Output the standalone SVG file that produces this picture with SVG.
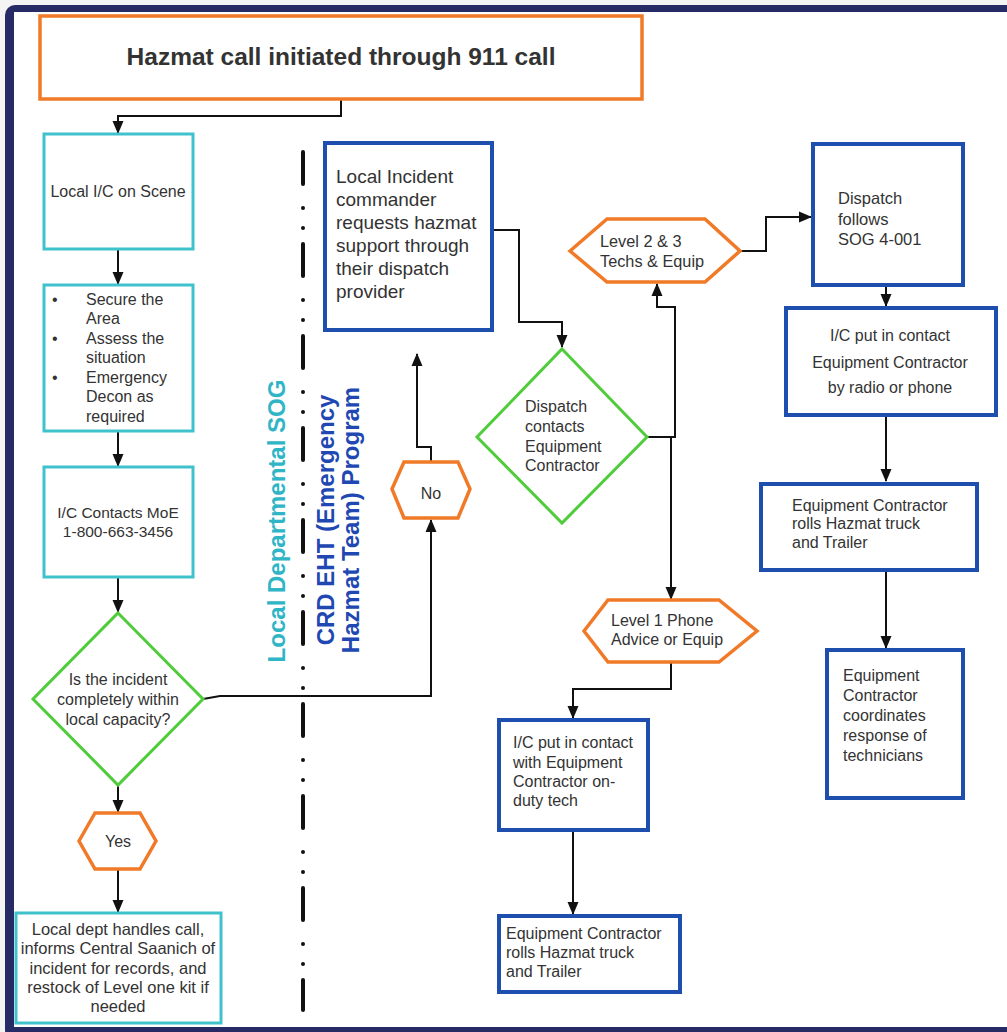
<svg xmlns="http://www.w3.org/2000/svg" width="1007" height="1032" viewBox="0 0 1007 1032">
<style>
text{font-family:"Liberation Sans",Arial,sans-serif;fill:#333;font-size:16px}
.c{text-anchor:middle}
.cyan{fill:#fff;stroke:#3fc2cc;stroke-width:3}
.blue{fill:#fff;stroke:#1f4fae;stroke-width:4}
.org{fill:#fff;stroke:#f07a28;stroke-width:3.5}
.grn{fill:#fff;stroke:#4fcc3a;stroke-width:3}
.ln{fill:none;stroke:#111;stroke-width:2}
.arr{marker-end:url(#ah)}
</style>
<defs>
<marker id="ah" markerUnits="userSpaceOnUse" markerWidth="13" markerHeight="12" refX="12" refY="6" orient="auto">
<path d="M0,0.5 L13,6 L0,11.5 z" fill="#111"/>
</marker>
</defs>
<rect x="0" y="0" width="1007" height="1032" fill="#f4f4f4"/>
<rect x="5" y="5" width="1030" height="1035" rx="10" fill="#272b65"/>
<rect x="14" y="12" width="1000" height="1015" fill="#fff"/>

<g id="divider">
<line x1="303" y1="152" x2="303" y2="1010" stroke="#111" stroke-width="4" stroke-linecap="round" stroke-dasharray="32 24 0 20 0 16"/>
</g>
<g id="lane-labels">
<text transform="translate(285,521) rotate(-90)" class="c" style="font-size:24px;font-weight:bold;fill:#2fb5c6">Local Departmental SOG</text>
<text transform="translate(334,520) rotate(-90)" class="c" style="font-size:24px;font-weight:bold;fill:#2148b2">CRD EHT (Emergency</text>
<text transform="translate(359,520) rotate(-90)" class="c" style="font-size:24px;font-weight:bold;fill:#2148b2">Hazmat Team) Program</text>
</g>

<g id="connectors">
<path class="ln arr" d="M341,99 V116 H118 V133"/>
<path class="ln arr" d="M118,249 V284"/>
<path class="ln arr" d="M118,431 V466"/>
<path class="ln arr" d="M118,577 V612"/>
<path class="ln arr" d="M118,785 V812"/>
<path class="ln arr" d="M118,869 V912"/>
<path class="ln arr" d="M203,699 L220,696 H431 V520"/>
<path class="ln arr" d="M431,462 V447 H417 V354"/>
<path class="ln arr" d="M492,230 H519 V322 H562 V347"/>
<path class="ln arr" d="M647,437 H675 V307 H657 V284"/>
<path class="ln arr" d="M671,437 V599"/>
<path class="ln arr" d="M740,251 H766 V217 H811"/>
<path class="ln arr" d="M886,285 V306"/>
<path class="ln arr" d="M886,415 V481"/>
<path class="ln arr" d="M886,570 V648"/>
<path class="ln arr" d="M671,662 V689 H573 V718"/>
<path class="ln arr" d="M573,830 V914"/>
</g>

<g id="n-hazmat-call">
<rect x="40" y="16" width="602" height="83" class="org"/>
<text x="341" y="65" class="c" style="font-size:24.5px;font-weight:bold">Hazmat call initiated through 911 call</text>
</g>

<g id="n-local-ic">
<rect x="44" y="134" width="149" height="115" class="cyan"/>
<text x="118" y="197" class="c">Local I/C on Scene</text>
</g>

<g id="n-secure">
<rect x="44" y="285" width="149" height="146" class="cyan"/>
<text x="52" y="305">•</text>
<text x="52" y="344">•</text>
<text x="52" y="383">•</text>
<text x="86" y="305">Secure the</text>
<text x="86" y="324">Area</text>
<text x="86" y="344">Assess the</text>
<text x="86" y="363">situation</text>
<text x="86" y="383">Emergency</text>
<text x="86" y="402">Decon as</text>
<text x="86" y="422">required</text>
</g>

<g id="n-moe">
<rect x="44" y="467" width="149" height="110" class="cyan"/>
<text x="118" y="518" class="c" style="font-size:15.5px">I/C Contacts MoE</text>
<text x="118" y="537" class="c" style="font-size:15.5px">1-800-663-3456</text>
</g>

<g id="n-capacity">
<polygon points="118,613 203,699 118,785 33,699" class="grn"/>
<text x="118" y="685" class="c">Is the incident</text>
<text x="118" y="705" class="c">completely within</text>
<text x="118" y="725" class="c">local capacity?</text>
</g>

<g id="n-yes">
<polygon points="79,841 95,813 140,813 156,841 140,869 95,869" class="org"/>
<text x="118" y="847" class="c">Yes</text>
</g>

<g id="n-local-handles">
<rect x="16" y="913" width="205" height="110" class="cyan"/>
<text x="118" y="935" class="c" style="font-size:16.5px">Local dept handles call,</text>
<text x="118" y="954" class="c" style="font-size:16.5px">informs Central Saanich of</text>
<text x="118" y="974" class="c" style="font-size:16.5px">incident for records, and</text>
<text x="118" y="993" class="c" style="font-size:16.5px">restock of Level one kit if</text>
<text x="118" y="1012" class="c" style="font-size:16.5px">needed</text>
</g>

<g id="n-no">
<polygon points="392,489 404,462 458,462 470,489 458,518 404,518" class="org"/>
<text x="431" y="499" class="c">No</text>
</g>

<g id="n-request">
<rect x="325" y="143" width="167" height="187" class="blue"/>
<text x="336" y="183" style="font-size:19px">Local Incident</text>
<text x="336" y="206" style="font-size:19px">commander</text>
<text x="336" y="229" style="font-size:19px">requests hazmat</text>
<text x="336" y="252" style="font-size:19px">support through</text>
<text x="336" y="275" style="font-size:19px">their dispatch</text>
<text x="336" y="298" style="font-size:19px">provider</text>
</g>

<g id="n-dispatch-contacts">
<polygon points="562,349 647,437 562,523 477,437" class="grn"/>
<text x="525" y="412">Dispatch</text>
<text x="525" y="432">contacts</text>
<text x="525" y="452">Equipment</text>
<text x="525" y="471">Contractor</text>
</g>

<g id="n-level23">
<polygon points="570,251 607,219 705,219 740,251 705,282 607,282" class="org"/>
<text x="600" y="247" style="font-size:16.3px">Level 2 &amp; 3</text>
<text x="600" y="267" style="font-size:16.3px">Techs &amp; Equip</text>
</g>

<g id="n-level1">
<polygon points="584,631 608,600 719,600 757,631 719,662 608,662" class="org"/>
<text x="611" y="626">Level 1 Phone</text>
<text x="611" y="645">Advice or Equip</text>
</g>

<g id="n-dispatch-sog">
<rect x="813" y="144" width="150" height="141" class="blue"/>
<text x="838" y="204" style="font-size:16.5px">Dispatch</text>
<text x="838" y="225" style="font-size:16.5px">follows</text>
<text x="838" y="245" style="font-size:16.5px">SOG 4-001</text>
</g>

<g id="n-ic-radio">
<rect x="786" y="308" width="210" height="107" class="blue"/>
<text x="890" y="341" class="c">I/C put in contact</text>
<text x="890" y="368" class="c">Equipment Contractor</text>
<text x="890" y="393" class="c">by radio or phone</text>
</g>

<g id="n-rolls-right">
<rect x="761" y="484" width="216" height="86" class="blue"/>
<text x="792" y="511">Equipment Contractor</text>
<text x="792" y="529">rolls Hazmat truck</text>
<text x="792" y="548">and Trailer</text>
</g>

<g id="n-coordinates">
<rect x="827" y="650" width="136" height="148" class="blue"/>
<text x="843" y="681">Equipment</text>
<text x="843" y="701">Contractor</text>
<text x="843" y="721">coordinates</text>
<text x="843" y="741">response of</text>
<text x="843" y="761">technicians</text>
</g>

<g id="n-ic-onduty">
<rect x="499" y="720" width="149" height="110" class="blue"/>
<text x="513" y="748">I/C put in contact</text>
<text x="513" y="768">with Equipment</text>
<text x="513" y="787">Contractor on-</text>
<text x="513" y="806">duty tech</text>
</g>

<g id="n-rolls-mid">
<rect x="499" y="916" width="181" height="76" class="blue"/>
<text x="506" y="939">Equipment Contractor</text>
<text x="506" y="958">rolls Hazmat truck</text>
<text x="506" y="977">and Trailer</text>
</g>
</svg>
